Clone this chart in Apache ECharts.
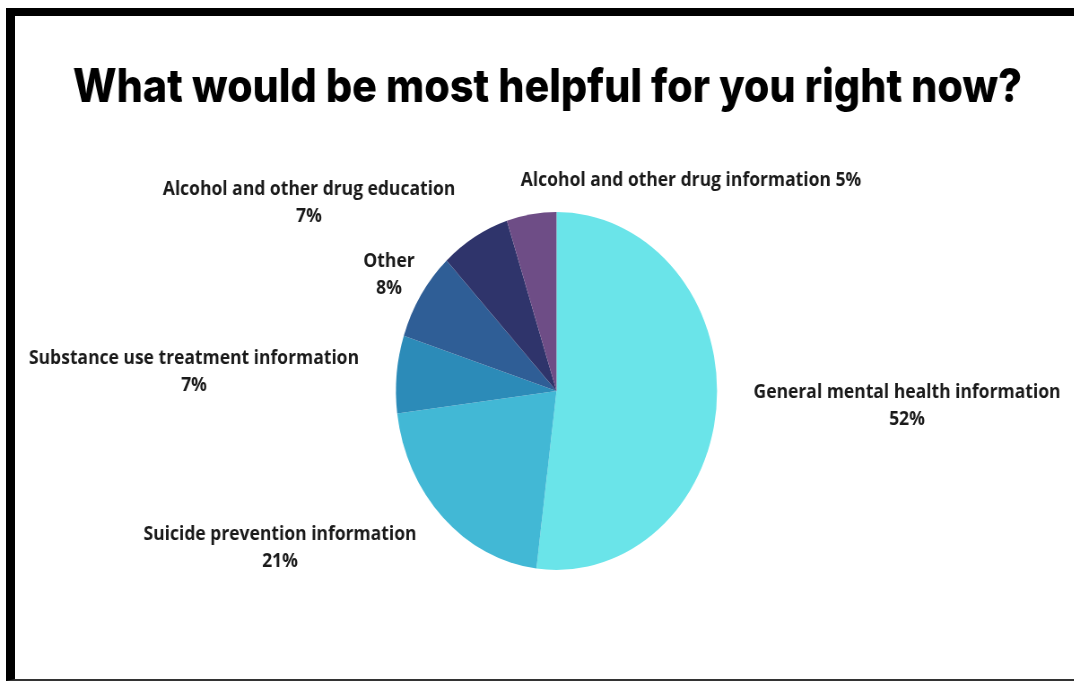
<!DOCTYPE html>
<html>
<head>
<meta charset="utf-8">
<script src="https://cdn.jsdelivr.net/npm/echarts@6/dist/echarts.min.js"></script>
<style>
html,body{margin:0;padding:0;background:#fff;width:1074px;height:681px;overflow:hidden;}
#frame{position:absolute;left:6px;top:8px;width:1068px;height:673px;box-sizing:border-box;border-top:8px solid #000;border-left:9px solid #000;border-bottom:2px solid #333;}
#chart{position:absolute;left:0;top:0;width:1197px;height:681px;transform:scaleX(0.897);transform-origin:0 0;}
</style>
</head>
<body>
<div id="frame"></div>
<div id="chart"></div>
<script>
const categories = [
  "General mental health information",
  "Suicide prevention information",
  "Substance use treatment information",
  "Other",
  "Alcohol and other drug education",
  "Alcohol and other drug information"
];
const values = [52, 21, 7, 8, 7, 5];
const titleText = "What would be most helpful for you right now?";
const colors = ["#6ae4e9", "#42b8d5", "#2c8bb8", "#2f5e96", "#2f346b", "#6e4d86"];
// label anchor positions on screen (layout only)
const labelPos = [[907,406],[280,548],[194,372],[389,275],[309,203],[691,180]];
const singleLine = [false,false,false,false,false,true];
const SX = 0.897; // horizontal squeeze of the picture

const chart = echarts.init(document.getElementById('chart'), null, {renderer:'canvas', width:1197, height:681});
chart.setOption({
  animation:false,
  title:{
    text:titleText,
    left:543/SX, top:83, textAlign:'center', textVerticalAlign:'middle',
    textStyle:{fontFamily:'Inter', fontWeight:800, fontSize:46, color:'#000'}
  },
  series:[{
    type:'pie',
    center:[556.5/SX,391],
    radius:[0,179],
    startAngle:90,
    clockwise:true,
    data: categories.map((c,i)=>({name:c, value:values[i], itemStyle:{color:colors[i]}})),
    label:{
      show:true,
      position:'outside',
      formatter:(p)=> singleLine[p.dataIndex] ? p.name+' '+p.value+'%' : p.name+'\n'+p.value+'%',
      fontFamily:'Open Sans', fontWeight:'bold', fontSize:19.5, color:'#1a1a1a',
      lineHeight:27, align:'center', overflow:'none'
    },
    labelLine:{show:false},
    labelLayout:(params)=>({
      x: labelPos[params.dataIndex][0]/SX,
      y: labelPos[params.dataIndex][1],
      align:'center',
      verticalAlign:'middle'
    })
  }]
});
</script>
</body>
</html>
